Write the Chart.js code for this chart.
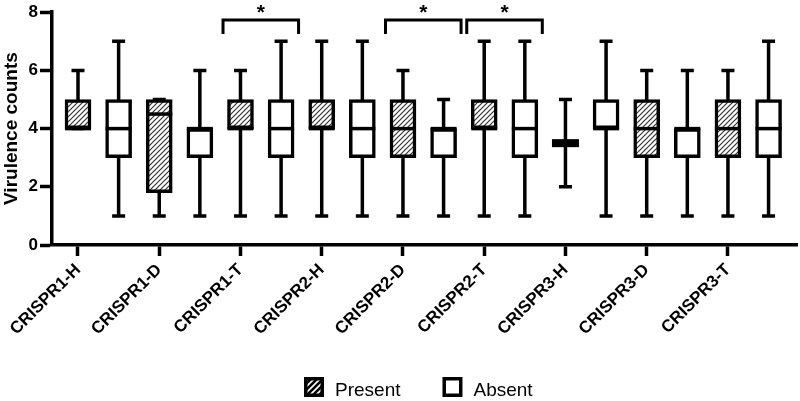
<!DOCTYPE html>
<html>
<head>
<meta charset="utf-8">
<script src="https://cdn.jsdelivr.net/npm/chart.js@4.4.1/dist/chart.umd.min.js"></script>
<style>
  html, body { margin: 0; padding: 0; background: #fff; }
  #wrap { width: 800px; height: 401px; }
</style>
</head>
<body>
<div id="wrap"><canvas id="grafico-box"></canvas></div>
<script>
// Dados (min, Q1, mediana, Q3, max)
const categorias = ['CRISPR1-H', 'CRISPR1-D', 'CRISPR1-T', 'CRISPR2-H', 'CRISPR2-D', 'CRISPR2-T', 'CRISPR3-H', 'CRISPR3-D', 'CRISPR3-T'];

const presenteMin     = [4, 1,   1, 1, 1, 1, 2,   1, 1];
const presenteQ1      = [4, 1.8, 4, 4, 3, 4, 3.5, 3, 3];
const presenteMediana = [4, 4.5, 4, 4, 4, 4, 3.5, 4, 4];
const presenteQ3      = [5, 5,   5, 5, 5, 5, 3.5, 5, 5];
const presenteMax     = [6, 5,   6, 7, 6, 7, 5,   6, 6];

const ausenteMin     = [1, 1, 1, 1, 1, 1, 1, 1, 1];
const ausenteQ1      = [3, 3, 3, 3, 3, 3, 4, 3, 3];
const ausenteMediana = [4, 4, 4, 4, 4, 4, 4, 4, 4];
const ausenteQ3      = [5, 4, 5, 5, 4, 5, 5, 4, 5];
const ausenteMax     = [7, 6, 7, 7, 5, 7, 7, 6, 7];

const yTicks = [0, 2, 4, 6, 8];

// Comparações significativas (Present vs Absent)
const comparacoes = ['CRISPR1-T', 'CRISPR2-D', 'CRISPR2-T'];
const marcaSignificancia = '*';

const FONTE = 'Arial, "Liberation Sans", sans-serif';
const LINHA = 3.5;

/**
 * Cria um padrão de hachura diagonal (///).
 */
function criarHachura(tamanho, espessura, cor, fundo) {
    const c = document.createElement('canvas');
    c.width = c.height = tamanho;
    const ctx = c.getContext('2d');
    ctx.fillStyle = fundo;
    ctx.fillRect(0, 0, tamanho, tamanho);
    ctx.strokeStyle = cor;
    ctx.lineWidth = espessura;
    ctx.beginPath();
    ctx.moveTo(0, tamanho); ctx.lineTo(tamanho, 0);
    ctx.moveTo(-tamanho / 2, tamanho / 2); ctx.lineTo(tamanho / 2, -tamanho / 2);
    ctx.moveTo(tamanho / 2, tamanho * 1.5); ctx.lineTo(tamanho * 1.5, tamanho / 2);
    ctx.stroke();
    return ctx.createPattern(c, 'repeat');
}

const hachura = criarHachura(5, 1.2, '#333', '#fff');
const hachuraLegenda = criarHachura(6, 2.6, '#000', '#fff');

function montarSerie(label, offset, min, q1, med, q3, max, fundo, fundoLegenda) {
    return {
        label: label,
        data: categorias.map((c, i) => ({ x: 2 * i + offset, y: [q1[i], q3[i]] })),
        estat: { min, q1, med, q3, max },
        fundoLegenda: fundoLegenda,
        backgroundColor: fundo,
        borderColor: '#000',
        borderWidth: LINHA,
        borderSkipped: false,
        barThickness: 26,
        grouped: false
    };
}

// Bigodes, caps, medianas e caixas colapsadas
const pluginBoxplot = {
    id: 'boxplot',
    beforeDatasetsDraw(chart) {
        const { ctx, scales: { x, y } } = chart;
        ctx.save();
        ctx.strokeStyle = '#000';
        ctx.lineWidth = LINHA;
        chart.data.datasets.forEach((ds) => {
            const e = ds.estat;
            ds.data.forEach((p, i) => {
                const px = x.getPixelForValue(p.x);
                const yMin = y.getPixelForValue(e.min[i]);
                const yMax = y.getPixelForValue(e.max[i]);
                ctx.beginPath();
                ctx.moveTo(px, yMin);
                ctx.lineTo(px, yMax);
                ctx.moveTo(px - 6.5, yMin);
                ctx.lineTo(px + 6.5, yMin);
                ctx.moveTo(px - 6.5, yMax);
                ctx.lineTo(px + 6.5, yMax);
                ctx.stroke();
            });
        });
        ctx.restore();
    },
    afterDatasetsDraw(chart) {
        const { ctx, scales: { x, y } } = chart;
        ctx.save();
        ctx.fillStyle = '#000';
        chart.data.datasets.forEach((ds) => {
            const e = ds.estat;
            const meia = ds.barThickness / 2;
            ds.data.forEach((p, i) => {
                const px = x.getPixelForValue(p.x);
                const yMed = y.getPixelForValue(e.med[i]);
                if (e.q1[i] === e.q3[i]) {
                    ctx.fillRect(px - meia - 0.5, yMed - 4, ds.barThickness + 1, 8);
                } else {
                    ctx.fillRect(px - meia, yMed - LINHA / 2, ds.barThickness, LINHA);
                }
            });
        });
        ctx.restore();
    },
    afterDraw(chart) {
        const { ctx, scales: { x, y } } = chart;
        ctx.save();
        // Colchetes de significância
        ctx.strokeStyle = '#000';
        ctx.fillStyle = '#000';
        ctx.lineWidth = 3;
        comparacoes.forEach((nome) => {
            const i = categorias.indexOf(nome);
            const centro = 2 * i + 0.5;
            const x1 = x.getPixelForValue(centro - 0.93);
            const x2 = x.getPixelForValue(centro + 0.93);
            const yTopo = y.getPixelForValue(7.73);
            const yPe = y.getPixelForValue(7.25);
            ctx.beginPath();
            ctx.moveTo(x1, yPe);
            ctx.lineTo(x1, yTopo);
            ctx.lineTo(x2, yTopo);
            ctx.lineTo(x2, yPe);
            ctx.stroke();
            ctx.font = 'bold 21px ' + FONTE;
            ctx.textAlign = 'center';
            ctx.textBaseline = 'alphabetic';
            ctx.fillText(marcaSignificancia, (x1 + x2) / 2, yTopo - 1);
        });

        // Legenda
        let lx = 304;
        const ly = 377;
        const lado = 20;
        ctx.font = '19px ' + FONTE;
        ctx.textAlign = 'left';
        ctx.textBaseline = 'alphabetic';
        chart.data.datasets.forEach((ds) => {
            ctx.fillStyle = ds.fundoLegenda;
            ctx.fillRect(lx, ly, lado, lado);
            ctx.strokeStyle = '#000';
            ctx.lineWidth = LINHA;
            ctx.strokeRect(lx + LINHA / 2, ly + LINHA / 2, lado - LINHA, lado - LINHA);
            ctx.fillStyle = '#000';
            ctx.fillText(ds.label, lx + lado + 11, ly + 19);
            lx += lado + 11 + ctx.measureText(ds.label).width + 42;
        });
        ctx.restore();
    }
};

const canvas = document.getElementById('grafico-box');

new Chart(canvas, {
    type: 'bar',
    data: {
        datasets: [
            montarSerie('Present', 0, presenteMin, presenteQ1, presenteMediana, presenteQ3, presenteMax, hachura, hachuraLegenda),
            montarSerie('Absent', 1, ausenteMin, ausenteQ1, ausenteMediana, ausenteQ3, ausenteMax, '#fff', '#fff')
        ]
    },
    options: {
        responsive: true,
        maintainAspectRatio: false,
        animation: false,
        layout: {
            padding: { top: 9, right: 3, left: 0, bottom: 56 }
        },
        plugins: {
            legend: { display: false },
            tooltip: { enabled: false }
        },
        scales: {
            x: {
                type: 'linear',
                min: -0.64,
                max: 17.7,
                offset: false,
                afterBuildTicks: (s) => {
                    s.ticks = categorias.map((c, i) => ({ value: 2 * i }));
                },
                afterFit: (s) => { s.height = 100; },
                ticks: {
                    autoSkip: false,
                    minRotation: 45,
                    maxRotation: 45,
                    padding: 4,
                    color: '#000',
                    font: { family: FONTE, size: 17, weight: 'bold' },
                    callback: (v) => categorias[Math.round(v / 2)]
                },
                grid: {
                    offset: false,
                    drawOnChartArea: false,
                    drawTicks: true,
                    tickLength: 11,
                    tickWidth: LINHA,
                    tickColor: '#000'
                },
                border: { color: '#000', width: LINHA }
            },
            y: {
                min: 0,
                max: 8,
                afterBuildTicks: (s) => {
                    s.ticks = yTicks.map(v => ({ value: v }));
                },
                afterFit: (s) => { s.width = 52; },
                ticks: {
                    padding: 2,
                    color: '#000',
                    font: { family: FONTE, size: 17, weight: 'bold' }
                },
                grid: {
                    drawOnChartArea: false,
                    drawTicks: true,
                    tickLength: 12,
                    tickWidth: LINHA,
                    tickColor: '#000'
                },
                border: { color: '#000', width: LINHA },
                title: {
                    display: true,
                    text: 'Virulence counts',
                    color: '#000',
                    padding: { top: 0.5, bottom: 0 },
                    font: { family: FONTE, size: 19, weight: 'bold' }
                }
            }
        }
    },
    plugins: [pluginBoxplot]
});
</script>
</body>
</html>
